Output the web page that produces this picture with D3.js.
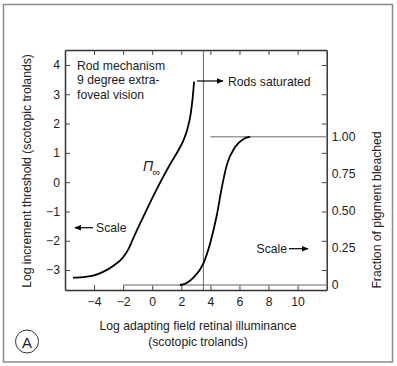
<!DOCTYPE html>
<html><head><meta charset="utf-8">
<script src="https://cdn.jsdelivr.net/npm/d3@7/dist/d3.min.js"></script>
<style>
body{margin:0;background:#fff;}
svg text{font-family:"Liberation Sans",Arial,Helvetica,sans-serif;fill:#222;}
</style></head>
<body>
<svg id="c" width="397" height="366"></svg>
<script>
// ---- data ----
const xTicks = [-4, -2, 0, 2, 4, 6, 8, 10];
const yTicks = [-3, -2, -1, 0, 1, 2, 3, 4];
const fracTicks = [0, 0.25, 0.5, 0.75, 1];
const fracLabels = ["0", "0.25", "0.50", "0.75", "1.00"];
// threshold curve: [log illuminance, log increment threshold]
const thresholdX = [-5.45, -4.6, -4.07, -3.38, -2.69, -2.0, -1.6, -1.31, -0.39, 0.19, 0.76, 1.25, 1.79, 2.14, 2.41, 2.65, 2.79, 2.88];
const thresholdY = [-3.26, -3.23, -3.19, -3.06, -2.86, -2.56, -2.25, -1.92, -0.95, -0.36, 0.19, 0.63, 1.08, 1.42, 1.8, 2.35, 2.92, 3.43];
// pigment bleached curve: [log illuminance, fraction bleached]
const bleachX = [1.9, 2.3, 2.83, 3.52, 3.98, 4.44, 4.79, 5.13, 5.7, 6.28, 6.74];
const bleachY = [0, 0.01, 0.05, 0.146, 0.28, 0.47, 0.66, 0.81, 0.93, 0.985, 1.0];
const saturationX = 3.52;         // rods saturated vertical line
const fullBleach = [4.0, 12];     // 1.00 reference line extent
const zeroBleach = [-2.0, 12];    // 0 reference line extent

const svg = d3.select("#c");
const L = 65, R = 326.7, T = 50, B = 290;
const x = d3.scaleLinear().domain([-6, 12]).range([L, R]);
const y = d3.scaleLinear().domain([-3.68, 4.51]).range([B, T]);
const f = d3.scaleLinear().domain([0, 1]).range([285, 136.7]);

// outer border
svg.append("rect").attr("x", 3.5).attr("y", 4.5).attr("width", 389).attr("height", 357.5)
  .attr("fill", "none").attr("stroke", "#8a8a8a").attr("stroke-width", 1.5);

const fs = "12.2px";
const minus = d => d < 0 ? "\u2212" + Math.abs(d) : String(d);

// axes
const gB = svg.append("g").attr("transform", `translate(0,${B})`)
  .call(d3.axisBottom(x).tickValues(xTicks).tickSizeInner(-5).tickSizeOuter(0).tickPadding(7).tickFormat(minus));
const gT = svg.append("g").attr("transform", `translate(0,${T})`)
  .call(d3.axisTop(x).tickValues(xTicks).tickSizeInner(-5).tickSizeOuter(0).tickFormat(""));
const gL = svg.append("g").attr("transform", `translate(${L},0)`)
  .call(d3.axisLeft(y).tickValues(yTicks).tickSizeInner(-5).tickSizeOuter(0).tickPadding(5).tickFormat(minus));
const gR = svg.append("g").attr("transform", `translate(${R},0)`)
  .call(d3.axisRight(y).tickValues(yTicks).tickSizeInner(-5).tickSizeOuter(0).tickFormat(""));
const gRL = svg.append("g").attr("transform", `translate(${R},0)`)
  .call(d3.axisRight(f).tickValues(fracTicks).tickSize(0).tickPadding(5).tickFormat((d, i) => fracLabels[i]));
gRL.select(".domain").remove();
[gB, gT, gL, gR, gRL].forEach(g => {
  g.selectAll(".domain").attr("stroke", "#333").attr("stroke-width", 1.5);
  g.selectAll(".tick line").attr("stroke", "#444").attr("stroke-width", 1);
  g.selectAll("text").attr("font-size", fs).attr("fill", "#222")
    .attr("font-family", '"Liberation Sans",Arial,sans-serif');
});

// reference lines
svg.append("line").attr("x1", x(fullBleach[0])).attr("x2", x(fullBleach[1]))
  .attr("y1", f(1)).attr("y2", f(1)).attr("stroke", "#9a9a9a").attr("stroke-width", 1.6);
svg.append("line").attr("x1", x(zeroBleach[0])).attr("x2", x(zeroBleach[1]))
  .attr("y1", f(0)).attr("y2", f(0)).attr("stroke", "#9a9a9a").attr("stroke-width", 1.6);
svg.append("line").attr("x1", x(saturationX)).attr("x2", x(saturationX))
  .attr("y1", T).attr("y2", B).attr("stroke", "#555").attr("stroke-width", 0.9);

// curves
const thr = thresholdX.map((d, i) => [d, thresholdY[i]]);
const ble = bleachX.map((d, i) => [d, bleachY[i]]);
svg.append("path").datum(thr)
  .attr("d", d3.line().x(d => x(d[0])).y(d => y(d[1])).curve(d3.curveMonotoneX))
  .attr("fill", "none").attr("stroke", "#000").attr("stroke-width", 1.8);
svg.append("path").datum(ble)
  .attr("d", d3.line().x(d => x(d[0])).y(d => f(d[1])).curve(d3.curveMonotoneX))
  .attr("fill", "none").attr("stroke", "#000").attr("stroke-width", 1.8);

// arrow marker
svg.append("defs").append("marker").attr("id", "ah").attr("viewBox", "0 0 10 10")
  .attr("refX", 9).attr("refY", 5).attr("markerWidth", 7).attr("markerHeight", 7)
  .attr("markerUnits", "userSpaceOnUse").attr("orient", "auto")
  .append("path").attr("d", "M0,1 L10,5 L0,9 Z").attr("fill", "#000");
function arrow(x1, y1, x2, y2) {
  svg.append("line").attr("x1", x1).attr("y1", y1).attr("x2", x2).attr("y2", y2)
    .attr("stroke", "#000").attr("stroke-width", 1.2).attr("marker-end", "url(#ah)");
}
function txt(s, tx, ty, anchor, size) {
  return svg.append("text").attr("x", tx).attr("y", ty).attr("text-anchor", anchor || "start")
    .attr("dominant-baseline", "central").attr("font-size", size || fs).text(s);
}

// annotations
txt("Rod mechanism", 77, 66);
txt("9 degree extra-", 77, 80.3);
txt("foveal vision", 77, 94.6);
arrow(197, 81, 223, 81);
txt("Rods saturated", 228, 81.5);
arrow(93, 227.7, 75, 227.7);
txt("Scale", 96, 228);
txt("Scale", 287, 249, "end");
arrow(289, 248.7, 308, 248.7);

// Pi infinity label
svg.append("text").attr("x", 143).attr("y", 171)
  .attr("font-family", '"DejaVu Serif","Liberation Serif",serif').attr("font-style", "italic")
  .attr("font-size", "14px").attr("fill", "#222").text("\u03A0");
svg.append("text").attr("x", 152.5).attr("y", 176)
  .attr("font-family", '"Liberation Serif",serif').attr("font-size", "11px").attr("fill", "#222").text("\u221E");

// axis titles
svg.append("text").attr("transform", "translate(27,171) rotate(-90)")
  .attr("text-anchor", "middle").attr("dominant-baseline", "central").attr("font-size", fs)
  .text("Log increment threshold (scotopic trolands)");
svg.append("text").attr("transform", "translate(377,210) rotate(-90)")
  .attr("text-anchor", "middle").attr("dominant-baseline", "central").attr("font-size", fs)
  .text("Fraction of pigment bleached");
txt("Log adapting field retinal illuminance", 198, 326, "middle");
txt("(scotopic trolands)", 198, 341.5, "middle");

// panel label
svg.append("circle").attr("cx", 27).attr("cy", 341.5).attr("r", 11.5)
  .attr("fill", "none").attr("stroke", "#333").attr("stroke-width", 1);
svg.append("text").attr("x", 27).attr("y", 342).attr("text-anchor", "middle")
  .attr("dominant-baseline", "central").attr("font-size", "15px").text("A");
</script>
</body></html>
